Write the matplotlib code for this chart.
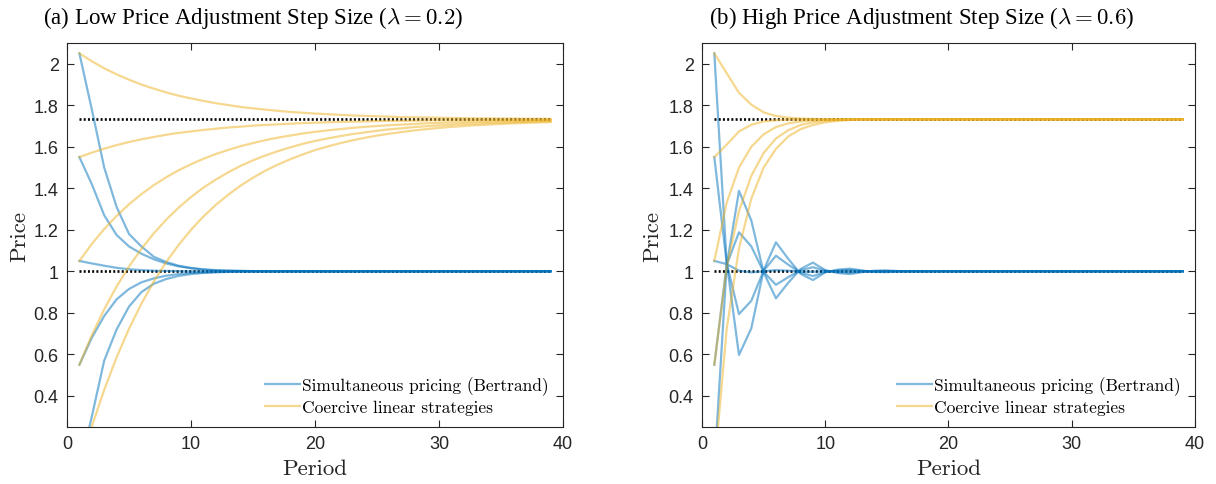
import numpy as np
import matplotlib
matplotlib.use('Agg')
import matplotlib.pyplot as plt
from matplotlib.ticker import FuncFormatter

plt.rcParams['mathtext.fontset'] = 'cm'

periods = np.arange(1, 40)
nash_price = 1.0
coop_price = 1.732

# (a) lambda = 0.2 -- simultaneous pricing (Bertrand)
bert_a1 = [2.05, 1.78, 1.50, 1.31, 1.18, 1.12, 1.07, 1.045, 1.027, 1.016, 1.009, 1.005, 1.003, 1.002, 1.001,
           1.0, 1.0, 1.0, 1.0, 1.0, 1.0, 1.0, 1.0, 1.0, 1.0, 1.0, 1.0, 1.0, 1.0, 1.0, 1.0, 1.0, 1.0, 1.0, 1.0,
           1.0, 1.0, 1.0, 1.0]
bert_a2 = [1.55, 1.42, 1.27, 1.175, 1.12, 1.085, 1.058, 1.038, 1.024, 1.015, 1.009, 1.005, 1.003, 1.002, 1.001,
           1.0, 1.0, 1.0, 1.0, 1.0, 1.0, 1.0, 1.0, 1.0, 1.0, 1.0, 1.0, 1.0, 1.0, 1.0, 1.0, 1.0, 1.0, 1.0, 1.0,
           1.0, 1.0, 1.0, 1.0]
bert_a3 = [1.05, 1.038, 1.027, 1.017, 1.010, 1.006, 1.003, 1.002, 1.001, 1.0, 1.0, 1.0, 1.0, 1.0, 1.0,
           1.0, 1.0, 1.0, 1.0, 1.0, 1.0, 1.0, 1.0, 1.0, 1.0, 1.0, 1.0, 1.0, 1.0, 1.0, 1.0, 1.0, 1.0, 1.0, 1.0,
           1.0, 1.0, 1.0, 1.0]
bert_a4 = [0.55, 0.68, 0.785, 0.865, 0.915, 0.947, 0.966, 0.979, 0.987, 0.992, 0.995, 0.997, 0.998, 0.999, 1.0,
           1.0, 1.0, 1.0, 1.0, 1.0, 1.0, 1.0, 1.0, 1.0, 1.0, 1.0, 1.0, 1.0, 1.0, 1.0, 1.0, 1.0, 1.0, 1.0, 1.0,
           1.0, 1.0, 1.0, 1.0]
bert_a5 = [0.05, 0.30, 0.57, 0.72, 0.83, 0.90, 0.94, 0.963, 0.978, 0.987, 0.992, 0.995, 0.997, 0.998, 0.999,
           1.0, 1.0, 1.0, 1.0, 1.0, 1.0, 1.0, 1.0, 1.0, 1.0, 1.0, 1.0, 1.0, 1.0, 1.0, 1.0, 1.0, 1.0, 1.0, 1.0,
           1.0, 1.0, 1.0, 1.0]

# (a) lambda = 0.2 -- coercive linear strategies
coer_a1 = [2.050, 2.012, 1.978, 1.949, 1.923, 1.900, 1.880, 1.862, 1.846, 1.833, 1.821, 1.810, 1.801,
           1.792, 1.785, 1.779, 1.773, 1.768, 1.764, 1.760, 1.757, 1.754, 1.751, 1.749, 1.747, 1.745,
           1.743, 1.742, 1.741, 1.740, 1.739, 1.738, 1.737, 1.737, 1.736, 1.736, 1.735, 1.735, 1.734]
coer_a2 = [1.550, 1.572, 1.591, 1.608, 1.623, 1.636, 1.647, 1.658, 1.667, 1.674, 1.681, 1.687, 1.693,
           1.697, 1.702, 1.705, 1.708, 1.711, 1.714, 1.716, 1.718, 1.720, 1.721, 1.722, 1.724, 1.725,
           1.725, 1.726, 1.727, 1.728, 1.728, 1.729, 1.729, 1.729, 1.730, 1.730, 1.730, 1.730, 1.731]
coer_a3 = [1.050, 1.132, 1.204, 1.267, 1.323, 1.372, 1.415, 1.453, 1.487, 1.516, 1.542, 1.565, 1.585,
           1.603, 1.618, 1.632, 1.644, 1.654, 1.664, 1.672, 1.679, 1.685, 1.691, 1.696, 1.700, 1.704,
           1.707, 1.710, 1.713, 1.715, 1.717, 1.719, 1.721, 1.722, 1.723, 1.724, 1.725, 1.726, 1.727]
coer_a4 = [0.550, 0.692, 0.817, 0.927, 1.023, 1.108, 1.183, 1.249, 1.307, 1.358, 1.403, 1.442, 1.477,
           1.508, 1.535, 1.558, 1.579, 1.597, 1.614, 1.628, 1.640, 1.651, 1.661, 1.669, 1.677, 1.684,
           1.689, 1.695, 1.699, 1.703, 1.706, 1.710, 1.712, 1.715, 1.717, 1.718, 1.720, 1.722, 1.723]
coer_a5 = [0.050, 0.252, 0.429, 0.586, 0.723, 0.844, 0.951, 1.045, 1.127, 1.200, 1.264, 1.320, 1.369,
           1.413, 1.451, 1.485, 1.514, 1.540, 1.563, 1.584, 1.601, 1.617, 1.631, 1.643, 1.654, 1.663,
           1.671, 1.679, 1.685, 1.691, 1.696, 1.700, 1.704, 1.707, 1.710, 1.713, 1.715, 1.717, 1.719]

# (b) lambda = 0.6 -- simultaneous pricing (Bertrand)
bert_b1 = [2.05, 1.045, 0.597, 0.725, 1.005, 1.14, 1.06, 0.988, 0.958, 0.995, 1.008, 1.013, 1.004, 0.997, 0.996,
           0.999, 1.001, 1.001, 1.0, 1.0, 1.0, 1.0, 1.0, 1.0, 1.0, 1.0, 1.0, 1.0, 1.0, 1.0, 1.0, 1.0, 1.0, 1.0,
           1.0, 1.0, 1.0, 1.0, 1.0]
bert_b2 = [1.55, 1.04, 0.794, 0.858, 1.003, 1.075, 1.032, 0.994, 0.977, 0.997, 1.004, 1.007, 1.002, 0.998, 0.998,
           1.0, 1.0, 1.0, 1.0, 1.0, 1.0, 1.0, 1.0, 1.0, 1.0, 1.0, 1.0, 1.0, 1.0, 1.0, 1.0, 1.0, 1.0, 1.0,
           1.0, 1.0, 1.0, 1.0, 1.0]
bert_b3 = [1.05, 1.035, 1.003, 0.995, 1.0, 1.006, 1.003, 0.999, 0.998, 1.0, 1.0, 1.0, 1.0, 1.0, 1.0,
           1.0, 1.0, 1.0, 1.0, 1.0, 1.0, 1.0, 1.0, 1.0, 1.0, 1.0, 1.0, 1.0, 1.0, 1.0, 1.0, 1.0, 1.0, 1.0,
           1.0, 1.0, 1.0, 1.0, 1.0]
bert_b4 = [0.55, 1.03, 1.188, 1.12, 0.997, 0.935, 0.972, 1.005, 1.02, 1.003, 0.996, 0.994, 0.998, 1.001, 1.002,
           1.0, 1.0, 1.0, 1.0, 1.0, 1.0, 1.0, 1.0, 1.0, 1.0, 1.0, 1.0, 1.0, 1.0, 1.0, 1.0, 1.0, 1.0, 1.0,
           1.0, 1.0, 1.0, 1.0, 1.0]
bert_b5 = [0.05, 1.025, 1.388, 1.245, 0.995, 0.87, 0.945, 1.011, 1.042, 1.006, 0.992, 0.987, 0.996, 1.003, 1.004,
           1.001, 0.999, 0.999, 1.0, 1.0, 1.0, 1.0, 1.0, 1.0, 1.0, 1.0, 1.0, 1.0, 1.0, 1.0, 1.0, 1.0, 1.0, 1.0,
           1.0, 1.0, 1.0, 1.0, 1.0]

# (b) lambda = 0.6 -- coercive linear strategies
coer_b1 = [2.05, 1.955, 1.86, 1.803, 1.766, 1.748, 1.740, 1.736, 1.734, 1.733, 1.732, 1.732, 1.732,
           1.732, 1.732, 1.732, 1.732, 1.732, 1.732, 1.732, 1.732, 1.732, 1.732, 1.732, 1.732, 1.732,
           1.732, 1.732, 1.732, 1.732, 1.732, 1.732, 1.732, 1.732, 1.732, 1.732, 1.732, 1.732, 1.732]
coer_b2 = [1.55, 1.61, 1.674, 1.706, 1.722, 1.728, 1.730, 1.731, 1.732, 1.732, 1.732, 1.732, 1.732,
           1.732, 1.732, 1.732, 1.732, 1.732, 1.732, 1.732, 1.732, 1.732, 1.732, 1.732, 1.732, 1.732,
           1.732, 1.732, 1.732, 1.732, 1.732, 1.732, 1.732, 1.732, 1.732, 1.732, 1.732, 1.732, 1.732]
coer_b3 = [1.05, 1.33, 1.50, 1.60, 1.66, 1.695, 1.713, 1.722, 1.727, 1.730, 1.731, 1.732, 1.732,
           1.732, 1.732, 1.732, 1.732, 1.732, 1.732, 1.732, 1.732, 1.732, 1.732, 1.732, 1.732, 1.732,
           1.732, 1.732, 1.732, 1.732, 1.732, 1.732, 1.732, 1.732, 1.732, 1.732, 1.732, 1.732, 1.732]
coer_b4 = [0.55, 1.02, 1.29, 1.46, 1.57, 1.64, 1.68, 1.705, 1.718, 1.725, 1.729, 1.731, 1.732,
           1.732, 1.732, 1.732, 1.732, 1.732, 1.732, 1.732, 1.732, 1.732, 1.732, 1.732, 1.732, 1.732,
           1.732, 1.732, 1.732, 1.732, 1.732, 1.732, 1.732, 1.732, 1.732, 1.732, 1.732, 1.732, 1.732]
coer_b5 = [0.05, 0.72, 1.11, 1.35, 1.50, 1.59, 1.65, 1.685, 1.705, 1.718, 1.725, 1.729, 1.731,
           1.732, 1.732, 1.732, 1.732, 1.732, 1.732, 1.732, 1.732, 1.732, 1.732, 1.732, 1.732, 1.732,
           1.732, 1.732, 1.732, 1.732, 1.732, 1.732, 1.732, 1.732, 1.732, 1.732, 1.732, 1.732, 1.732]

titles = [r'(a) Low Price Adjustment Step Size ($\lambda = 0.2$)',
          r'(b) High Price Adjustment Step Size ($\lambda = 0.6$)']
legend_labels = ['Simultaneous pricing (Bertrand)', 'Coercive linear strategies']
xticks = [0, 10, 20, 30, 40]
yticks = [0.4, 0.6, 0.8, 1.0, 1.2, 1.4, 1.6, 1.8, 2.0]

blue = '#0072BD'
yellow = '#EDB120'
dark = '#262626'

fig = plt.figure(figsize=(12.16, 4.85), dpi=100)
ax1 = fig.add_axes([0.0551, 0.1175, 0.4079, 0.7918])
ax2 = fig.add_axes([0.5773, 0.1175, 0.4054, 0.7918])

panels = [
    (ax1, [bert_a1, bert_a2, bert_a3, bert_a4, bert_a5], [coer_a1, coer_a2, coer_a3, coer_a4, coer_a5]),
    (ax2, [bert_b1, bert_b2, bert_b3, bert_b4, bert_b5], [coer_b1, coer_b2, coer_b3, coer_b4, coer_b5]),
]

for ax, berts, coers in panels:
    for ref in (nash_price, coop_price):
        ax.plot([periods[0], periods[-1]], [ref, ref], color='black', lw=1.9,
                linestyle=(0, (0.75, 0.85)), zorder=1)
    for i, s in enumerate(berts):
        ax.plot(periods, s, color=blue, alpha=0.5, lw=1.6, zorder=2,
                label=legend_labels[0] if i == 0 else None)
    for i, s in enumerate(coers):
        ax.plot(periods, s, color=yellow, alpha=0.5, lw=1.6, zorder=3,
                label=legend_labels[1] if i == 0 else None)

    ax.set_xlim(0, 40)
    ax.set_ylim(0.25, 2.1)
    ax.set_xticks(xticks)
    ax.set_yticks(yticks)
    ax.yaxis.set_major_formatter(FuncFormatter(lambda v, p: '%g' % v))
    ax.tick_params(direction='in', top=True, right=True, length=5, width=0.8,
                   labelsize=13, colors=dark, pad=6)
    for lab in ax.get_xticklabels() + ax.get_yticklabels():
        lab.set_fontfamily('Liberation Sans')
    for sp in ax.spines.values():
        sp.set_color(dark)
        sp.set_linewidth(0.8)

    ax.set_xlabel('Period', fontfamily='cmr10', fontsize=16.5, color=dark)
    ax.set_ylabel('Price', fontfamily='cmr10', fontsize=16.5, color=dark)
    ax.xaxis.set_label_coords(0.5, -0.083)

ax1.yaxis.set_label_coords(-0.077, 0.5)
ax2.yaxis.set_label_coords(-0.081, 0.5)

ax1.legend(loc='lower left', bbox_to_anchor=(0.399, 0.03), frameon=False,
           prop={'family': 'cmr10', 'size': 12.5}, handlelength=2.0,
           handletextpad=0.15, borderpad=0, borderaxespad=0, labelspacing=0.3)
ax2.legend(loc='lower left', bbox_to_anchor=(0.3955, 0.03), frameon=False,
           prop={'family': 'cmr10', 'size': 12.5}, handlelength=2.0,
           handletextpad=0.15, borderpad=0, borderaxespad=0, labelspacing=0.3)

fig.text(253 / 1216, 1 - 18 / 485, titles[0], ha='center', va='center',
         fontfamily='Liberation Serif', fontsize=16.5, color='black')
fig.text(922 / 1216, 1 - 18 / 485, titles[1], ha='center', va='center',
         fontfamily='Liberation Serif', fontsize=16.5, color='black')

fig.savefig('out.png', dpi=100)
